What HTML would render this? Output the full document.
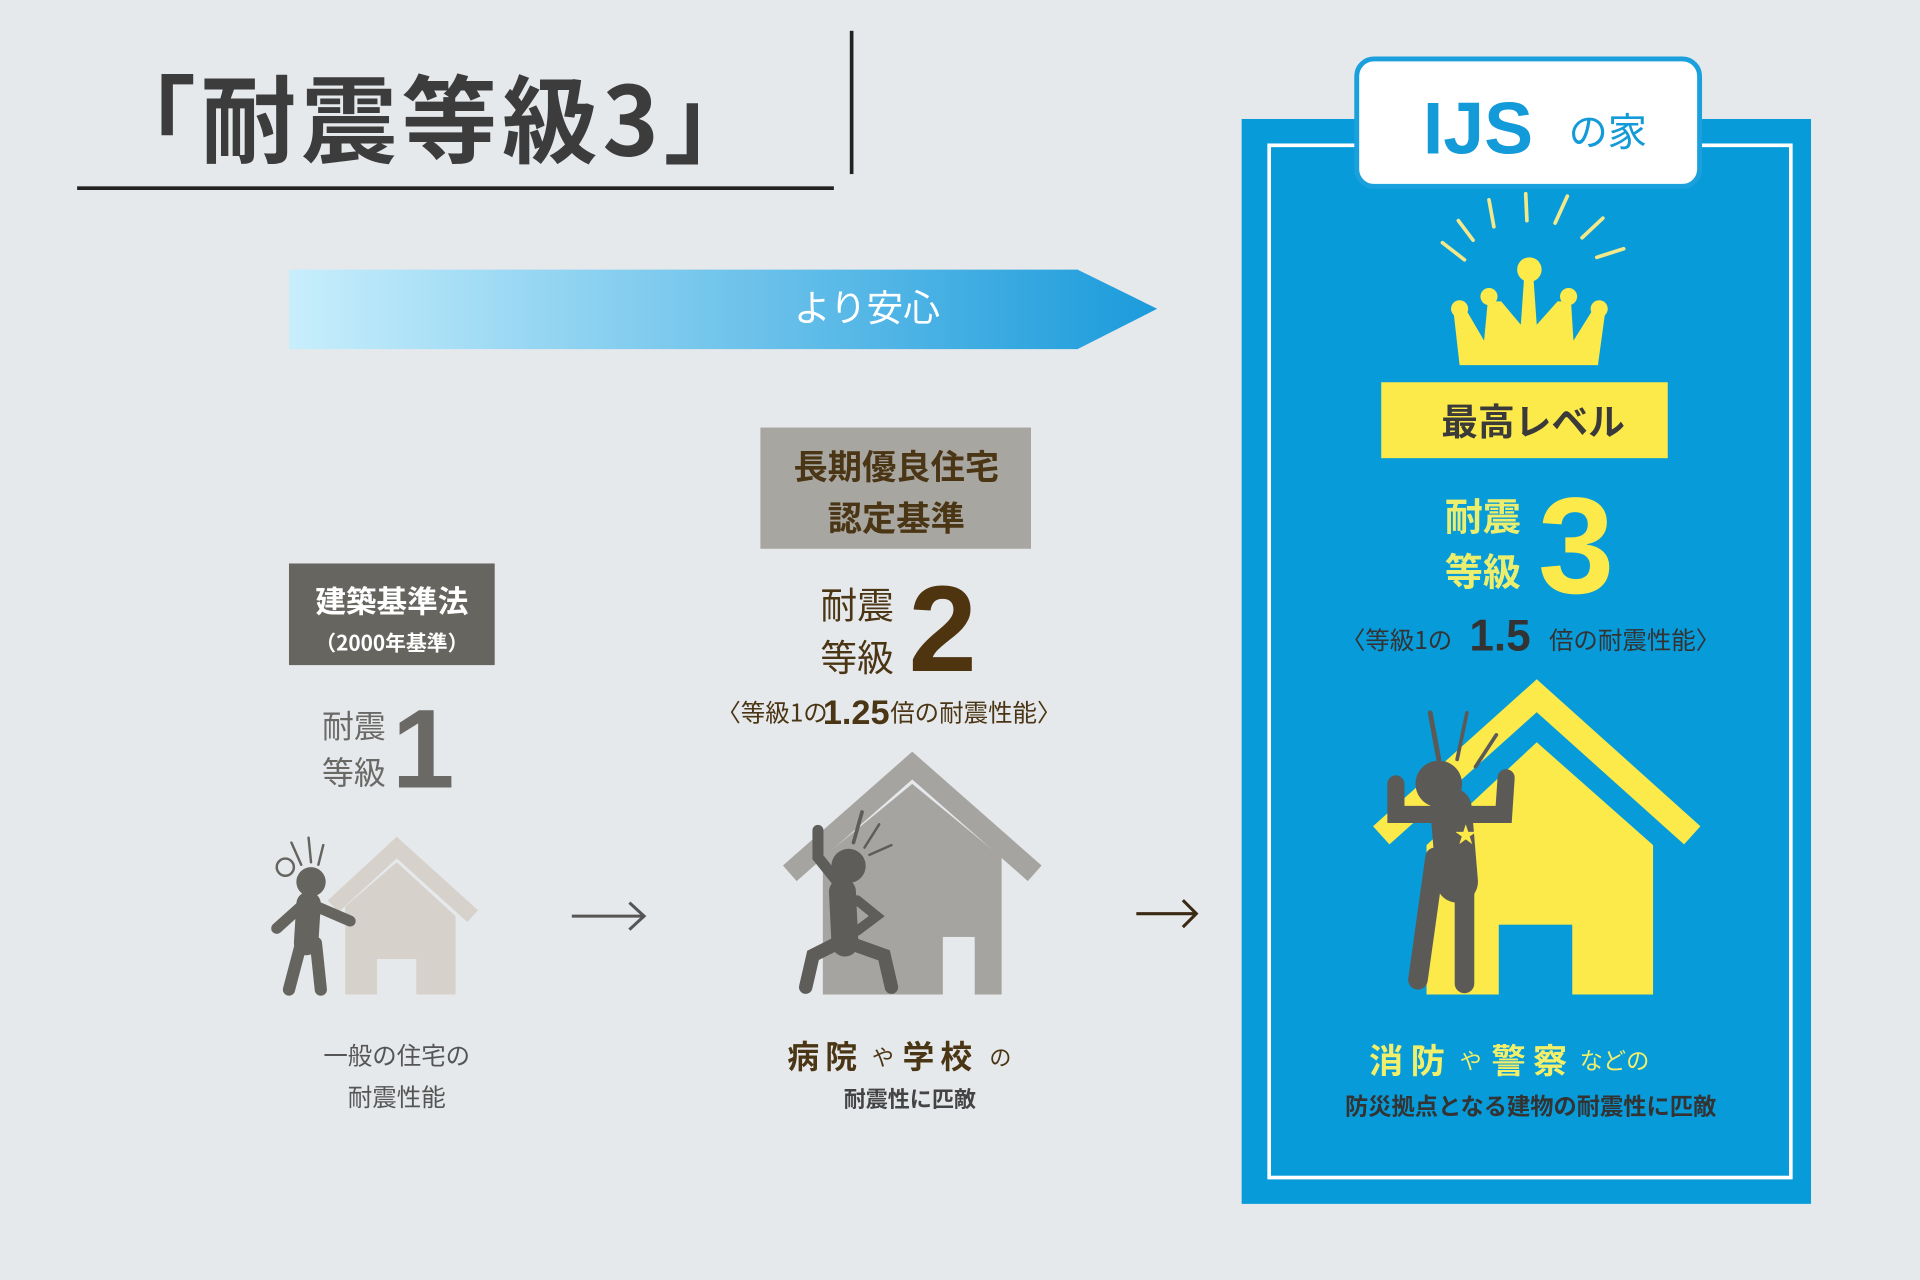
<!DOCTYPE html>
<html><head><meta charset="utf-8"><style>
html,body{margin:0;padding:0;background:#e6e9ec;}
svg{display:block;}
text{font-family:"Liberation Sans","Noto Sans CJK JP",sans-serif;}
.j{font-family:"Noto Sans CJK JP","Liberation Sans",sans-serif;}
</style></head><body>
<svg width="1920" height="1280" viewBox="0 0 1568 1045" xmlns="http://www.w3.org/2000/svg">
<defs>
<linearGradient id="g" x1="0" x2="1" y1="0" y2="0">
<stop offset="0" stop-color="#c8eefc"/><stop offset="1" stop-color="#1b9bdb"/>
</linearGradient>
</defs>
<rect width="1568" height="1045" fill="#e6e9ec"/>
<!-- title -->
<text x="82" y="127" class="j" font-size="78" font-weight="700" fill="#3c3c3c" letter-spacing="4">「耐震等級3」</text>
<rect x="63" y="152" width="618" height="3" fill="#222"/>
<rect x="694" y="25" width="3" height="117" fill="#222"/>
<!-- banner -->
<polygon points="236,220 880,220 945,252 880,285 236,285" fill="url(#g)"/>
<text x="708" y="262" class="j" font-size="30" fill="#fff" text-anchor="middle">より安心</text>

<!-- blue panel -->
<rect x="1014" y="97" width="465" height="886" fill="#079bd9"/>
<rect x="1036.5" y="118.5" width="426" height="843" fill="none" stroke="#fff" stroke-width="3"/>
<rect x="1108" y="48" width="280" height="104" rx="14" fill="#fff" stroke="#1aa0dd" stroke-width="4"/>
<text x="1162" y="125" font-size="60" font-weight="700" fill="#139ad8" font-family="Liberation Sans">IJS</text>
<text x="1281" y="119" class="j" font-size="32" fill="#139ad8">の家</text>
<!-- crown rays -->
<g stroke="#f3e88a" stroke-width="3" stroke-linecap="round">
<line x1="1178" y1="198" x2="1196" y2="212"/>
<line x1="1191" y1="180" x2="1203" y2="196"/>
<line x1="1216" y1="163" x2="1220" y2="185"/>
<line x1="1246" y1="158" x2="1247" y2="180"/>
<line x1="1280" y1="160" x2="1270" y2="182"/>
<line x1="1309" y1="178" x2="1292" y2="194"/>
<line x1="1326" y1="203" x2="1304" y2="210"/>
</g>
<!-- crown -->
<g fill="#fce94a">
<polygon points="1192,298 1305,298 1311,254 1300,254 1285,278 1283,246 1272,246 1255,265 1252,222 1245,222 1242,265 1226,246 1215,246 1212,278 1198,254 1187,254"/>
<circle cx="1192" cy="252" r="7"/><circle cx="1216" cy="242" r="7"/>
<circle cx="1249" cy="220" r="10"/><circle cx="1281" cy="242" r="7"/><circle cx="1306" cy="252" r="7"/>
</g>
<rect x="1128" y="312" width="234" height="62" fill="#fce94a"/>
<text x="1252" y="355" text-anchor="middle" class="j" font-size="30" font-weight="700" fill="#3a3a3a">最高レベル</text>
<text x="1180" y="433" class="j" font-size="31" font-weight="700" fill="#ecef6e">耐震</text>
<text x="1180" y="478" class="j" font-size="31" font-weight="700" fill="#ecef6e">等級</text>
<text x="1256" y="484" font-size="112" font-weight="700" fill="#fce94a" font-family="Liberation Sans">3</text>
<text x="1095" y="530" class="j" font-size="20" fill="#333">〈等級1の</text>
<text x="1200" y="531" font-size="36" font-weight="700" fill="#333" font-family="Liberation Sans">1.5</text>
<text x="1265" y="530" class="j" font-size="20" fill="#333">倍の耐震性能〉</text>
<!-- yellow house -->
<polyline points="1128,682 1255,568 1382,682" fill="none" stroke="#fce94a" stroke-width="20"/>
<polygon points="1165,690 1255,606 1350,690 1350,812 1165,812" fill="#fce94a"/>
<rect x="1224" y="755" width="60" height="57" fill="#079bd9"/>
<!-- person right -->
<g stroke="#5c5a56" stroke-linecap="round" fill="none">
<line x1="1175" y1="620" x2="1168" y2="582" stroke-width="4"/>
<line x1="1190" y1="620" x2="1198" y2="582" stroke-width="3"/>
<line x1="1205" y1="626" x2="1222" y2="600" stroke-width="3"/>
<path d="M1185 660 L1190 720" stroke-width="34"/>
<path d="M1172 700 L1158 800" stroke-width="16"/>
<path d="M1196 710 L1196 803" stroke-width="16"/>
<path d="M1172 665 L1140 665 L1140 640" stroke-width="14"/>
<path d="M1200 665 L1228 665 L1230 635" stroke-width="14"/>
</g>
<circle cx="1175" cy="640" r="19" fill="#5c5a56"/>
<text x="1188" y="688" font-size="18" fill="#fce94a">★</text>
<text x="1118" y="876" class="j" font-size="28" font-weight="700" fill="#f2ef6a" letter-spacing="6">消防</text>
<text x="1192" y="873" class="j" font-size="18" fill="#f2ef6a">や</text>
<text x="1218" y="876" class="j" font-size="28" font-weight="700" fill="#f2ef6a" letter-spacing="6">警察</text>
<text x="1290" y="873" class="j" font-size="19" fill="#f2ef6a">などの</text>
<text x="1250" y="910" text-anchor="middle" class="j" font-size="19" font-weight="700" fill="#333">防災拠点となる建物の耐震性に匹敵</text>

<!-- left column -->
<rect x="236" y="460" width="168" height="83" fill="#67655f"/>
<text x="320" y="500" text-anchor="middle" class="j" font-size="25" font-weight="700" fill="#fff">建築基準法</text>
<text x="320" y="531" text-anchor="middle" class="j" font-size="17" font-weight="700" fill="#fff">（2000年基準）</text>
<text x="263" y="602" class="j" font-size="26" fill="#6a6966">耐震</text>
<text x="263" y="640" class="j" font-size="26" fill="#6a6966">等級</text>
<text x="320" y="643" font-size="92" font-weight="700" fill="#6a6966" font-family="Liberation Sans">1</text>
<!-- left house -->
<polyline points="272,740 324,692 386,748" fill="none" stroke="#d6d1ca" stroke-width="13"/>
<polygon points="282,740 324,704 372,748 372,812 282,812" fill="#d6d1ca"/>
<rect x="308" y="783" width="32" height="29" fill="#e6e9ec"/>
<!-- left person -->
<g stroke="#66645f" stroke-linecap="round" fill="none">
<path d="M252 738 L250 770" stroke-width="20"/>
<path d="M246 770 L236 808" stroke-width="10"/>
<path d="M258 770 L262 808" stroke-width="10"/>
<path d="M246 740 L226 758" stroke-width="9"/>
<path d="M258 740 L286 752" stroke-width="9"/>
<line x1="238" y1="688" x2="246" y2="706" stroke-width="2"/>
<line x1="252" y1="684" x2="254" y2="704" stroke-width="2"/>
<line x1="264" y1="690" x2="260" y2="706" stroke-width="2"/>
</g>
<circle cx="254" cy="720" r="12" fill="#66645f"/>
<circle cx="233" cy="708" r="7" fill="none" stroke="#66645f" stroke-width="2"/>
<text x="324" y="869" text-anchor="middle" class="j" font-size="20" fill="#555">一般の住宅の</text>
<text x="324" y="903" text-anchor="middle" class="j" font-size="20" fill="#555">耐震性能</text>
<!-- arrow 1 -->
<g stroke="#555" stroke-width="2.5" fill="none"><line x1="467" y1="748" x2="526" y2="748"/><polyline points="514,737 526,748 514,759"/></g>

<!-- middle -->
<rect x="621" y="349" width="221" height="99" fill="#a8a6a1"/>
<text x="732" y="391" text-anchor="middle" class="j" font-size="28" font-weight="700" fill="#4a3514">長期優良住宅</text>
<text x="732" y="433" text-anchor="middle" class="j" font-size="28" font-weight="700" fill="#4a3514">認定基準</text>
<text x="670" y="505" class="j" font-size="30" fill="#4a3514">耐震</text>
<text x="670" y="548" class="j" font-size="30" fill="#4a3514">等級</text>
<text x="742" y="548" font-size="100" font-weight="700" fill="#4e3510" font-family="Liberation Sans">2</text>
<text x="585" y="589" class="j" font-size="20" fill="#4a3514">〈等級1の</text>
<text x="672" y="591" font-size="28" font-weight="700" fill="#4a3514" font-family="Liberation Sans">1.25</text>
<text x="727" y="589" class="j" font-size="20" fill="#4a3514">倍の耐震性能〉</text>
<!-- middle house -->
<polyline points="645,713 745,625 845,713" fill="none" stroke="#a6a4a0" stroke-width="17"/>
<polygon points="672,700 745,640 818,700 818,812 672,812" fill="#a6a4a0"/>
<rect x="770" y="765" width="26" height="47" fill="#e6e9ec"/>
<!-- middle person -->
<g stroke="#5f5d59" stroke-linecap="round" fill="none">
<path d="M688 728 L690 770" stroke-width="22"/>
<path d="M684 770 L664 780 L658 806" stroke-width="11"/>
<path d="M694 770 L722 780 L728 806" stroke-width="11"/>
<path d="M684 720 L668 700 L668 678" stroke-width="9"/>
<path d="M700 735 L716 748 L700 760" stroke-width="8"/>
<line x1="697" y1="688" x2="704" y2="663" stroke-width="3"/>
<line x1="706" y1="692" x2="718" y2="673" stroke-width="2"/>
<line x1="710" y1="698" x2="728" y2="690" stroke-width="2"/>
</g>
<circle cx="693" cy="707" r="14" fill="#5f5d59"/>
<text x="643" y="872" class="j" font-size="26" font-weight="700" fill="#4a3514" letter-spacing="5">病院</text>
<text x="712" y="870" class="j" font-size="18" fill="#4a3514">や</text>
<text x="737" y="872" class="j" font-size="26" font-weight="700" fill="#4a3514" letter-spacing="5">学校</text>
<text x="808" y="870" class="j" font-size="18" fill="#4a3514">の</text>
<text x="743" y="904" text-anchor="middle" class="j" font-size="18" font-weight="700" fill="#444">耐震性に匹敵</text>
<!-- arrow 2 -->
<g stroke="#3a2a14" stroke-width="2.5" fill="none"><line x1="928" y1="746" x2="977" y2="746"/><polyline points="966,735 977,746 966,757"/></g>
</svg>
</body></html>
